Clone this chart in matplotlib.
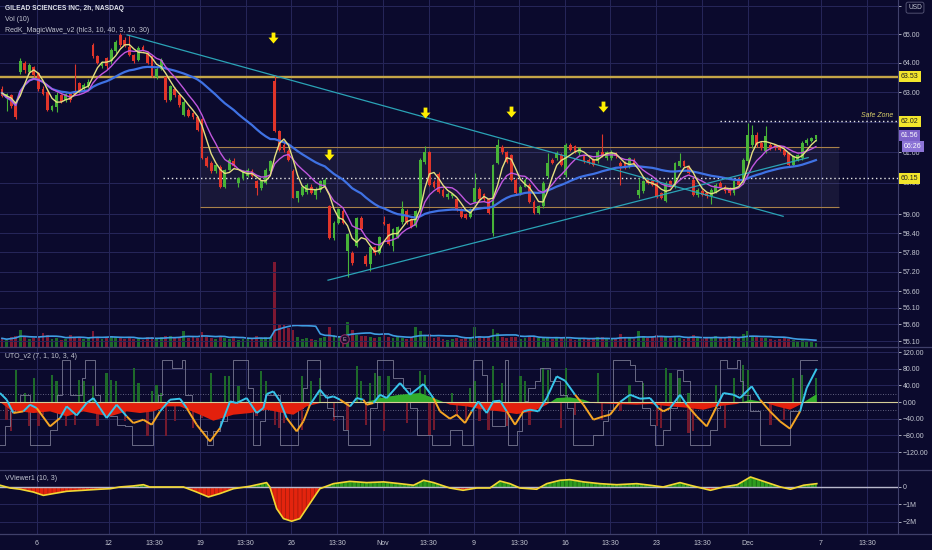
import numpy as np
import matplotlib
matplotlib.use("Agg")
import matplotlib.pyplot as plt
from matplotlib.collections import LineCollection
from matplotlib.path import Path
from matplotlib.patches import Rectangle
from matplotlib.lines import Line2D
from matplotlib.ticker import FixedLocator, NullLocator, FixedFormatter
from matplotlib.transforms import blended_transform_factory

plt.rcParams['font.family'] = ['Liberation Sans', 'DejaVu Sans']
plt.rcParams['hatch.linewidth'] = 0.5

# ---------------- data ----------------
opens = [63.10, 62.80, 62.90, 62.60, 63.70, 64.00, 63.68, 63.85, 63.65, 63.12,
         63.02, 62.40, 62.50, 62.90, 62.72, 62.92, 63.02, 63.30, 63.10, 63.20,
         64.62, 64.22, 63.88, 64.15, 64.05, 64.40, 64.95, 64.80, 64.55, 64.27,
         64.10, 64.55, 64.35, 64.22, 63.50, 63.80, 63.50, 62.75, 63.12, 62.90,
         62.23, 62.40, 62.28, 62.15, 62.08, 60.82, 60.65, 60.38, 60.52, 59.88,
         60.43, 60.70, 59.99, 60.16, 60.22, 60.38, 60.05, 59.83, 59.99, 60.38,
         63.39, 61.68, 61.24, 61.03, 60.38, 59.52, 59.62, 59.70, 59.88, 59.62,
         59.78, 59.94, 59.25, 58.25, 58.73, 59.10, 57.85, 57.79, 58.00, 58.88,
         57.69, 57.43, 57.95, 57.79, 58.75, 58.68, 58.00, 58.28, 58.75, 59.09,
         58.83, 58.62, 59.09, 60.68, 61.00, 60.04, 60.30, 59.78, 59.53, 59.58,
         59.47, 59.15, 58.99, 58.92, 59.40, 59.81, 59.65, 59.47, 58.40, 60.65,
         61.17, 61.00, 60.91, 60.10, 59.68, 59.88, 59.94, 59.40, 59.05, 59.25,
         60.21, 60.75, 60.80, 60.91, 60.26, 61.24, 61.19, 60.97, 60.86, 60.75,
         60.75, 60.70, 61.02, 60.80, 60.80, 60.97, 60.64, 60.64, 60.54, 60.75,
         59.62, 59.73, 60.10, 60.05, 59.99, 59.67, 59.42, 60.05, 59.88, 60.54,
         60.70, 60.54, 60.10, 59.60, 59.75, 59.67, 59.57, 59.72, 59.99, 59.88,
         59.83, 59.67, 60.10, 59.99, 60.70, 61.24, 61.57, 61.29, 61.03, 61.24,
         61.24, 61.19, 61.08, 60.97, 60.59, 60.75, 60.80, 61.29, 61.38, 61.42]
highs = [63.20, 62.98, 62.95, 62.65, 64.15, 64.05, 63.98, 63.90, 63.70, 63.20,
         63.05, 62.58, 63.00, 62.95, 62.97, 62.97, 63.97, 63.35, 63.30, 63.45,
         64.68, 64.28, 64.08, 64.20, 64.50, 64.80, 65.05, 64.90, 64.97, 64.32,
         64.58, 64.62, 64.42, 64.28, 63.85, 64.15, 63.55, 63.25, 63.18, 62.95,
         62.75, 62.45, 62.32, 62.20, 62.12, 60.88, 60.70, 60.62, 60.58, 60.45,
         60.80, 60.80, 60.18, 60.42, 60.48, 60.45, 60.10, 60.10, 60.48, 60.75,
         63.58, 61.72, 61.35, 61.10, 60.45, 59.75, 59.92, 60.00, 59.95, 59.85,
         60.08, 60.15, 59.30, 58.78, 59.18, 59.15, 58.40, 57.85, 58.92, 58.95,
         57.75, 58.00, 58.00, 58.30, 58.95, 58.72, 58.56, 58.62, 59.42, 59.15,
         58.88, 59.12, 60.82, 61.20, 61.05, 60.10, 60.35, 59.82, 59.70, 59.68,
         59.52, 59.18, 59.02, 59.18, 60.32, 59.85, 59.68, 59.50, 60.62, 61.42,
         61.25, 61.05, 60.95, 60.15, 59.92, 60.15, 60.00, 59.45, 59.28, 60.05,
         60.97, 60.80, 61.05, 60.97, 61.30, 61.30, 61.25, 61.17, 60.92, 60.80,
         60.80, 61.08, 61.60, 61.05, 61.08, 61.02, 60.70, 60.70, 60.85, 60.82,
         60.15, 60.10, 60.15, 60.10, 60.05, 59.72, 60.05, 60.10, 60.68, 60.97,
         60.75, 60.58, 60.15, 59.82, 59.80, 59.72, 59.82, 60.00, 60.05, 59.94,
         59.88, 60.10, 60.20, 60.80, 61.95, 61.90, 61.65, 61.35, 61.85, 61.30,
         61.28, 61.24, 61.12, 61.02, 60.90, 60.95, 61.35, 61.45, 61.50, 61.58]
lows = [62.83, 62.35, 62.45, 62.10, 63.62, 63.65, 63.60, 63.50, 63.05, 62.90,
        62.35, 62.35, 62.33, 62.62, 62.68, 62.68, 62.90, 62.98, 63.05, 63.15,
        64.15, 63.95, 63.82, 63.80, 63.95, 64.35, 64.55, 64.55, 64.22, 63.98,
        64.05, 64.40, 63.95, 63.50, 63.45, 63.75, 62.65, 62.70, 62.85, 62.50,
        62.18, 62.15, 62.10, 61.70, 60.78, 60.50, 60.33, 60.33, 59.82, 59.82,
        60.40, 60.50, 59.88, 60.10, 60.18, 60.18, 59.62, 59.78, 59.95, 60.35,
        61.65, 61.05, 61.02, 60.72, 59.50, 59.40, 59.58, 59.65, 59.65, 59.47,
        59.72, 59.90, 58.20, 58.18, 58.70, 58.68, 57.05, 57.40, 57.95, 58.48,
        57.38, 57.22, 57.72, 57.75, 58.65, 58.02, 57.85, 58.25, 58.70, 58.70,
        58.55, 58.58, 59.05, 60.62, 59.90, 59.82, 59.68, 59.53, 59.48, 59.52,
        59.10, 58.88, 58.85, 58.88, 59.35, 59.42, 59.43, 59.00, 58.32, 60.60,
        60.95, 60.65, 60.05, 59.65, 59.62, 59.85, 59.35, 59.00, 59.00, 59.20,
        60.15, 60.60, 60.75, 60.55, 60.20, 61.05, 60.98, 60.90, 60.65, 60.60,
        60.55, 60.65, 60.85, 60.75, 60.75, 60.80, 59.94, 60.45, 60.48, 60.55,
        59.52, 59.68, 59.95, 59.90, 59.52, 59.48, 59.38, 59.85, 59.82, 60.50,
        60.50, 60.28, 59.58, 59.55, 59.58, 59.52, 59.31, 59.68, 59.85, 59.68,
        59.62, 59.62, 59.90, 59.95, 60.65, 61.15, 61.18, 61.08, 60.98, 61.08,
        61.08, 61.03, 60.86, 60.55, 60.55, 60.70, 60.75, 61.25, 61.33, 61.38]
closes = [62.88, 62.92, 62.52, 62.15, 64.05, 63.75, 63.92, 63.58, 63.10, 62.95,
          62.40, 62.52, 62.90, 62.68, 62.92, 62.72, 62.95, 63.02, 63.25, 63.35,
          64.22, 64.00, 64.03, 63.88, 64.45, 64.72, 64.62, 64.60, 64.27, 64.05,
          64.50, 64.45, 64.00, 63.55, 63.80, 64.10, 62.73, 63.20, 62.90, 62.56,
          62.68, 62.20, 62.17, 61.73, 60.82, 60.54, 60.38, 60.59, 59.88, 60.43,
          60.75, 60.54, 60.15, 60.38, 60.43, 60.22, 59.83, 60.05, 60.43, 60.70,
          61.68, 61.08, 61.08, 60.75, 59.52, 59.73, 59.88, 59.94, 59.68, 59.80,
          60.05, 60.10, 58.25, 58.73, 59.15, 58.73, 58.37, 57.48, 58.88, 58.52,
          57.43, 57.95, 57.77, 58.27, 58.68, 58.05, 58.52, 58.58, 59.15, 58.75,
          58.58, 59.09, 60.75, 61.00, 59.94, 59.87, 59.72, 59.57, 59.65, 59.63,
          59.15, 58.92, 58.88, 59.15, 59.84, 59.47, 59.47, 59.05, 60.59, 61.24,
          61.00, 60.68, 60.10, 59.68, 59.88, 60.10, 59.40, 59.05, 59.25, 60.00,
          60.64, 60.64, 60.97, 60.59, 61.24, 61.08, 61.03, 61.13, 60.70, 60.64,
          60.59, 61.02, 60.91, 60.99, 61.02, 60.86, 60.54, 60.48, 60.80, 60.59,
          59.78, 60.05, 59.99, 59.94, 59.57, 59.52, 59.99, 59.88, 60.64, 60.70,
          60.54, 60.32, 59.62, 59.78, 59.62, 59.57, 59.78, 59.94, 59.88, 59.73,
          59.67, 60.05, 59.94, 60.75, 61.57, 61.57, 61.24, 61.13, 61.52, 61.13,
          61.13, 61.08, 60.91, 60.59, 60.86, 60.91, 61.29, 61.40, 61.45, 61.56]
volumes = [1.0, 0.8, 1.1, 1.3, 2.0, 1.2, 0.9, 1.0, 1.1, 1.6,
           1.4, 0.9, 1.0, 0.8, 0.9, 1.4, 1.2, 1.0, 0.9, 1.0,
           1.9, 1.1, 0.9, 1.0, 1.3, 1.1, 1.0, 0.9, 1.0, 0.9,
           1.0, 0.8, 1.2, 1.1, 1.0, 1.2, 1.3, 1.3, 1.0, 1.2,
           1.9, 1.0, 1.1, 1.0, 1.7, 1.2, 1.0, 0.9, 1.3, 1.0,
           0.9, 1.2, 0.8, 0.9, 1.0, 0.9, 1.3, 1.0, 1.1, 1.2,
           9.8, 2.7, 2.5, 2.2, 2.0, 1.1, 0.9, 1.0, 0.9, 0.8,
           1.0, 1.1, 2.3, 1.4, 1.2, 1.2, 2.9, 2.0, 1.4, 1.3,
           1.3, 1.2, 1.0, 1.1, 1.6, 1.2, 1.0, 1.1, 1.0, 0.9,
           1.1, 2.3, 1.8, 1.3, 1.5, 1.0, 1.2, 0.9, 0.8, 0.9,
           1.0, 0.9, 1.1, 1.2, 2.3, 1.3, 1.0, 1.1, 2.1, 1.6,
           1.2, 1.0, 1.1, 1.2, 0.9, 1.0, 1.3, 1.1, 1.0, 1.2,
           1.0, 0.9, 1.2, 1.0, 1.1, 0.9, 0.8, 0.9, 1.0, 0.9,
           1.0, 1.1, 1.2, 1.0, 0.9, 1.0, 1.5, 1.1, 1.0, 0.9,
           1.8, 1.3, 1.0, 1.1, 1.4, 1.1, 1.2, 1.0, 1.3, 1.0,
           0.9, 1.0, 1.4, 1.0, 0.9, 1.1, 1.2, 1.3, 1.0, 1.0,
           1.3, 1.0, 1.1, 1.5, 1.8, 1.3, 1.1, 1.0, 1.0, 0.9,
           0.8, 0.9, 1.0, 0.9, 0.8, 0.7, 0.9, 0.7, 0.6, 0.5]

tick_pos = [7.7, 23.5, 33.5, 43.6, 53.6, 63.6, 73.7, 83.7, 93.8, 103.7,
            113.8, 123.9, 133.8, 143.9, 154.0, 164.0, 180.1, 190.2]
tick_labels = ["6", "12", "13:30", "19", "13:30", "26", "13:30", "Nov", "13:30", "9",
               "13:30", "16", "13:30", "23", "13:30", "Dec", "7", "13:30"]

price_ticks = [55.10, 55.60, 56.10, 56.60, 57.20, 57.80, 58.40, 59.00, 60.00,
               61.00, 62.00, 63.00, 64.00, 65.00, 66.00]
hidden_price_labels = [62.00, 66.00]

resistance = 63.53
safe_zone = 62.02
mid_level = 60.15
last_price = 61.56
box_x = [43.5, 184.1]
box_y = [59.22, 61.17]
down_line_x = [27.5, 171.8]
down_line_y = [64.97, 58.93]
up_line_x = [71.7, 177.3]
up_line_y = [56.94, 60.82]
arrow_x = [59.6, 71.9, 93.0, 111.9, 132.2]
arrow_y = [64.86, 60.91, 62.30, 62.33, 62.50]

# UTO oscillator
uto_x = [-0.44, 1.03, 2.49, 4.69, 6.16, 7.62, 10.56, 12.76, 14.22, 16.42, 18.62, 20.09,
         21.55, 23.02, 25.22, 27.42, 28.89, 31.08, 32.92, 34.75, 36.95, 39.15, 40.62,
         42.82, 45.75, 47.95, 50.15, 51.61, 53.81, 56.01, 57.48, 58.21, 59.68, 61.14,
         62.61, 64.81, 66.28, 67.74, 69.94, 71.41, 72.87, 74.34, 76.54, 78.00, 79.47,
         80.2, 81.67, 83.14, 84.6, 87.54, 89.74, 92.67, 94.87, 96.33, 98.5, 99.99,
         101.83, 103.3, 104.76, 106.6, 108.06, 109.53, 111.0, 112.83, 114.66, 116.13,
         117.96, 119.79, 121.99, 123.82, 126.02, 127.86, 130.06, 132.25, 133.72,
         135.92, 138.12, 140.32, 142.52, 144.35, 145.45, 146.92, 149.12, 150.58,
         152.78, 154.98, 157.18, 158.65, 160.85, 162.31, 164.88, 166.71, 168.91,
         171.11, 173.31, 175.51, 176.97, 179.17]
uto_v = [21.6, 5.6, -26.4, -22.4, -6.4, -14.4, -58.4, -38.4, -10.4, -32, -2.4, 9.6,
         -14.4, -38.4, -6.4, -34.4, -50.4, -42.4, -54.4, -22.4, 5.6, 8, -14.4,
         -54.4, -94.4, -62.4, 1.6, -2.4, 9.6, -26.4, -14.4, 19.2, 25.6, 1.6,
         -38.4, -70.4, -46.4, -6.4, 29.6, 9.6, 13.6, 5.6, -10.4, 9.6, 5.6,
         -6.4, -2.4, 17.6, 9.6, 45.6, 17.6, 43.2, 9.6, -22.4, -40, -30.4,
         -50.4, -22.4, 1.6, -26.4, 1.6, 3.2, -22.4, -54.4, -22.4, -18.4,
         -22.4, 9.6, 61.6, 51.2, 17.6, -6.4, -42.4, -34.4, -30.4,
         0, 17.6, 8, 9.6, -14.4, -22.4, -14.4, 17.6, -6.4,
         -34.4, -58.4, -10.4, 21.6, 17.6, 9.6, 37.6, 5.6, -22.4,
         -46.4, -64, -22.4, 33.6, 80]
sig_x = [-0.44, 1.76, 3.96, 6.89, 10.56, 14.22, 17.89, 21.55, 23.75, 27.42, 30.35,
         33.28, 36.22, 39.15, 43.55, 46.48, 50.88, 54.54, 58.21, 61.88, 64.08, 67.01,
         69.94, 72.87, 76.54, 80.2, 83.14, 87.54, 91.94, 94.87, 97.07, 98.53, 102.2,
         105.86, 109.53, 113.19, 116.86, 119.79, 121.99, 124.92, 127.86, 130.06,
         135.19, 139.59, 142.52, 146.92, 149.85, 154.25, 157.18, 161.58, 164.51,
         167.45, 170.38, 173.31, 175.51, 179.17]
sig_v = [0, -18.4, -22.4, -26.4, -22.4, -34.4, -22.4, -30.4, -34.4, -22.4, -26.4,
         -22.4, -10.4, -10.4, -30.4, -44.8, -30.4, -26.4, -18.4, -26.4, -30.4, -10.4,
         -2.4, 0, -2.4, 0, 9.6, 17.6, 21.6, 9.6, 0, -6.4, -10.4,
         -18.4, -22.4, -28.8, -22.4, -6.4, 9.6, 11.2, 5.6, -2.4,
         -4.8, -6.4, -4.8, -10.4, -12.8, -18.4, -10.4, -4.8, 5.6,
         0, -10.4, -18.4, -6.4, 19.2]
hist_x = [3, 5, 7, 11, 12, 17, 18, 20, 23, 24, 25, 29, 30, 33, 34, 35, 46, 49, 50,
          52, 57, 58, 66, 68, 70, 78, 79, 81, 82, 83, 85, 92, 93,
          1, 2, 6, 8, 9, 14, 16, 21, 27, 32, 36, 38, 42, 44, 56, 60, 61, 62, 66,
          73, 76, 80, 84, 89, 94, 95,
          99, 103, 104, 108, 110, 114, 115, 119, 120, 124, 131, 138, 141, 146, 147,
          149, 151, 157, 161, 163, 164, 174, 176, 179,
          100, 102, 105, 107, 111, 116, 123, 126, 132, 136, 144, 145, 151, 152,
          159, 169, 172]
hist_v = [77.6, 21.6, 57.6, 65.6, 49.6, 53.6, 49.6, 37.6, 69.6, 53.6, 49.6, 81.6,
          45.6, 25.6, 41.6, 21.6, 69.6, 61.6, 61.6, 37.6, 73.6, 49.6, 61.6, 49.6,
          57.6, 85.6, 49.6, 45.6, 69.6, 61.6, 61.6, 73.6, 65.6,
          -42.4, -70.4, -58.4, -58.4, -30.4, -58.4, -54.4, -58.4, -46.4, -82.4,
          -82.4, -46.4, -62.4, -38.4, -34.4, -54.4, -62.4, -50.4, -66.4,
          -46.4, -66.4, -54.4, -70.4, -50.4, -78.4, -66.4,
          21.6, 33.6, 49.6, 85.6, 45.6, 61.6, 49.6, 81.6, 77.6, 81.6, 69.6, 41.6,
          45.6, 81.6, 69.6, 57.6, 21.6, 41.6, 57.6, 89.6, 77.6, 57.6, 65.6, 57.6,
          -30.4, -42.4, -46.4, -66.4, -58.4, -54.4, -62.4, -30.4, -42.4, -22.4,
          -58.4, -62.4, -74.4, -70.4, -62.4, -54.4, -42.4]
step_x = [-0.44, 0.66, 1.76, 2.86, 3.96, 6.16, 10.56, 12.02, 13.12, 14.96, 17.52,
          18.25, 20.45, 21.55, 23.75, 25.22, 27.05, 28.52, 33.28, 34.38, 35.12,
          37.32, 39.52, 40.25, 41.72, 43.55, 45.02, 46.48, 47.95, 49.41, 50.88,
          54.18, 55.28, 56.74, 57.84, 61.14, 65.18, 66.28, 67.01, 69.94, 71.41,
          72.87, 75.07, 76.17, 80.94, 82.4, 86.07, 88.27, 89.74, 91.2, 94.5,
          98.53, 101.1, 103.66, 105.5, 106.6, 107.7, 110.63, 111.36, 113.19,
          114.29, 115.03, 115.76, 117.23, 118.33, 120.52, 122.72, 124.19, 125.51,
          130.06, 132.25, 133.35, 134.45, 138.12, 139.22, 140.69, 142.52, 143.62,
          145.45, 146.92, 148.39, 149.85, 151.32, 155.72, 157.18, 157.92, 159.38,
          161.58, 162.31, 163.05, 164.51, 166.71, 173.31, 175.51, 179.17]
step_v = [-102.4, -58.4, -22.4, -6.4, 17.6, -102.4, -66.4, 17.6, 101.6, 17.6, 57.6,
          101.6, 17.6, -14.4, -34.4, -54.4, -58.4, -102.4, -14.4, 17.6, 101.6,
          81.6, 101.6, 17.6, -14.4, -70.4, -102.4, -70.4, -46.4, -14.4, 101.6,
          33.6, -102.4, -46.4, 17.6, -102.4, -14.4, 33.6, 101.6, 17.6, -14.4,
          -34.4, -66.4, -102.4, -14.4, 101.6, 57.6, 33.6, -14.4, -78.4, -102.4,
          -66.4, -102.4, 101.6, 65.6, -6.4, -58.4, 101.6, -102.4, -70.4,
          -14.4, 1.6, 33.6, 49.6, 81.6, 49.6, 17.6, -14.4, -102.4,
          -78.4, -46.4, -18.4, 101.6, 89.6, 49.6, -14.4, -54.4, -102.4,
          -66.4, -14.4, 77.6, 49.6, -102.4, -66.4, -14.4, 101.6, 81.6,
          101.6, 49.6, 17.6, -22.4, -102.4, -22.4, 101.6, 101.6]

# VViewer (millions)
vv_x = [-0.44, 1.8, 4.0, 6.9, 9.1, 11.3, 14.2, 17.9, 21.5, 23.8, 25.9, 28.9, 31.1,
        32.5, 36.2, 39.9, 42.8, 45.4, 47.9, 50.9, 54.5, 58.2, 58.9, 60.4, 61.9,
        63.7, 65.5, 67.7, 69.9, 72.9, 76.5, 80.2, 83.9, 87.5, 90.5, 92.7, 94.9,
        97.8, 98.5, 101.4, 104.4, 107.3, 109.5, 111.7, 113.9, 117.6, 119.8, 122.7,
        124.9, 127.9, 131.5, 135.2, 139.6, 142.5, 145.4, 149.1, 151.3, 155.8,
        158.7, 161.7, 164.6, 167.5, 171.2, 173.4, 176.3, 179.2]
vv_v = [0.10, -0.06, -0.13, -0.29, -0.48, -0.38, -0.25, -0.19, -0.13, -0.10, 0.0,
        0.06, 0.13, 0.0, 0.0, 0.0, -0.29, -0.57, -0.38, -0.10, 0.04, 0.25, 0.0,
        -1.24, -1.81, -1.96, -1.81, -0.95, -0.10, 0.19, 0.32, 0.25, 0.29, 0.19,
        0.10, 0.38, 0.25, 0.0, -0.06, -0.19, -0.06, -0.06, 0.34, 0.19, -0.06,
        -0.13, 0.19, 0.38, 0.42, 0.29, 0.19, 0.13, 0.19, 0.10, 0.0, 0.25, 0.10,
        -0.19, 0.0, 0.13, 0.57, 0.32, 0.0, -0.13, 0.10, 0.19]

# ---------------- style ----------------
BG = "#0b0a2d"
GRID = "#26265a"
TXT = "#c3c6d2"
SEP = "#40406a"
GREEN = "#47b338"
RED = "#e0352a"

W, H = 932, 550
XL = (-0.44, 197.05)


def rect(top, bottom, right=898):
    return [0, 1 - bottom / H, right / W, (bottom - top) / H]


def wma(a, n):
    a = np.asarray(a, float)
    out = np.empty(len(a))
    for k in range(len(a)):
        seg = a[max(0, k - n + 1):k + 1]
        w = np.arange(1, len(seg) + 1)
        out[k] = (seg * w).sum() / w.sum()
    return out


def sma(a, n):
    a = np.asarray(a, float)
    return np.array([a[max(0, k - n + 1):k + 1].mean() for k in range(len(a))])


o = np.array(opens); h = np.array(highs); l = np.array(lows); c = np.array(closes)
N = len(c)
x = np.arange(N)
up = c >= o
cols = np.where(up, GREEN, RED)
hlc3 = (h + l + c) / 3.0

fig = plt.figure(figsize=(9.32, 5.5), dpi=100, facecolor=BG)

# volume axes (behind price)
axvol = fig.add_axes(rect(0, 347), facecolor=BG)
axvol.set_xlim(*XL)
axvol.set_ylim(0, 40)
axvol.axis('off')
vcol = np.where(up, "#1d6a2a", "#7d1832")
axvol.bar(x, volumes, width=0.62, color=vcol, zorder=1)
axvol.plot(x, sma(volumes, 10), color="#3f9de2", lw=1.2, zorder=2)

ax = fig.add_axes(rect(0, 347), facecolor='none')
axu = fig.add_axes(rect(347, 470), facecolor=BG, sharex=ax)
axv = fig.add_axes(rect(470, 534), facecolor=BG, sharex=ax)

for a in (ax, axu, axv):
    for s in ('top', 'left', 'bottom'):
        a.spines[s].set_visible(False)
    a.spines['right'].set_color(SEP)
    a.spines['right'].set_linewidth(0.8)
    a.yaxis.tick_right()
    a.tick_params(axis='y', colors=TXT, labelsize=5, length=2, width=0.6, pad=1.5)
    a.tick_params(axis='x', length=0)
    a.grid(True, color=GRID, lw=0.7)
    a.set_axisbelow(True)

ax.set_xlim(*XL)
ax.set_xticks(tick_pos)
ax.tick_params(labelbottom=False)
axu.tick_params(labelbottom=False)
axv.set_xticklabels(tick_labels)
axv.tick_params(axis='x', colors=TXT, labelsize=5, pad=4.5)

# ---- main price panel ----
ax.set_yscale('log')
ax.set_ylim(54.93, 66.20)
ax.yaxis.set_major_locator(FixedLocator(price_ticks))
ax.yaxis.set_major_formatter(FixedFormatter(
    ["" if v in hidden_price_labels else f"{v:.2f}" for v in price_ticks]))
ax.yaxis.set_minor_locator(NullLocator())

ax.vlines(x, l, h, colors=cols, lw=0.8, zorder=4)
ax.bar(x, np.abs(c - o), bottom=np.minimum(o, c), width=0.62, color=cols, zorder=5)

ax.plot(x, wma(hlc3, 40), color="#3f72e4", lw=1.6, zorder=6)
ax.plot(x, wma(hlc3, 10), color="#c157df", lw=1.0, zorder=6)
ax.plot(x, wma(wma(hlc3, 3), 3), color="#e4df80", lw=1.0, zorder=7)

ax.axhline(resistance, color="#c4a547", lw=1.7, zorder=3)
ax.add_patch(Rectangle((box_x[0], box_y[0]), box_x[1] - box_x[0], box_y[1] - box_y[0],
                       facecolor="#ffffff", alpha=0.055, edgecolor='none', zorder=2))
ax.hlines(box_y, box_x[0], box_x[1], colors="#a9824a", lw=0.8, zorder=3)
ax.hlines(mid_level, 35.4, XL[1], colors="#e8e8e8", lw=1.0, linestyles=(0, (1, 2)), zorder=3)
ax.hlines(safe_zone, 157.9, XL[1], colors="#e8e8e8", lw=1.0, linestyles=(0, (1, 2)), zorder=3)
ax.plot(down_line_x, down_line_y, color="#2aa3b6", lw=0.9, zorder=6)
ax.plot(up_line_x, up_line_y, color="#2aa3b6", lw=0.9, zorder=6)

arrow = Path([(-0.32, 1.0), (0.32, 1.0), (0.32, 0.15), (0.85, 0.15), (0.0, -0.85),
              (-0.85, 0.15), (-0.32, 0.15), (-0.32, 1.0)],
             [Path.MOVETO] + [Path.LINETO] * 6 + [Path.CLOSEPOLY])
ax.plot(arrow_x, arrow_y, linestyle='none', marker=arrow, markersize=8.5,
        color="#ffee00", markeredgewidth=0, zorder=9)

ax.text(196.0, 62.22, "Safe Zone", color="#d9cf6a", fontsize=5, style='italic',
        ha='right', va='center', zorder=9)
ax.text(75.4, 55.16, "E", color="#d0a0c0", fontsize=4, ha='center', va='center', zorder=9,
        bbox=dict(boxstyle='circle,pad=0.35', fc="#1a0f30", ec="#8a2a60", lw=0.8))

btr = blended_transform_factory(ax.transAxes, ax.transData)


def tag(y, text, fc, tc, xpx=901):
    ax.text(xpx / 898, y, text, transform=btr, fontsize=5, color=tc, ha='left',
            va='center', clip_on=False, zorder=20,
            bbox=dict(boxstyle='square,pad=0.28', fc=fc, ec='none'))


tag(resistance, f"{resistance:.2f}", "#f2e52c", "#222222")
tag(safe_zone, f"{safe_zone:.2f}", "#f2e52c", "#222222")
tag(mid_level, f"{mid_level:.2f}", "#f2e52c", "#222222")
tag(last_price, f"{last_price:.2f}", "#7d62c9", "#ffffff")
tag(61.18, "06:26", "#8c74d6", "#ffffff", xpx=904)
ax.text(915 / 898, 0.988, "USD", transform=ax.transAxes, fontsize=4.8, color=TXT,
        ha='center', va='top', clip_on=False, zorder=20,
        bbox=dict(boxstyle='round,pad=0.3', fc=BG, ec="#5a5a7a", lw=0.6))

# ---- UTO panel ----
axu.set_ylim(-163, 132)
uto_ticks = [120, 80, 40, 0, -40, -80, -120]
axu.yaxis.set_major_locator(FixedLocator(uto_ticks))
axu.yaxis.set_major_formatter(FixedFormatter(
    [f"{v:.2f}".replace("-", "\u2212") for v in uto_ticks]))
hx = np.array(hist_x); hv = np.array(hist_v)
axu.bar(hx, hv, width=0.5, color=np.where(hv > 0, "#1e6a2a", "#741a2e"), zorder=2)
axu.plot(step_x, step_v, drawstyle='steps-post', color="#7a7a94", lw=0.7, alpha=0.85, zorder=3)
sx = np.array(sig_x); sv = np.array(sig_v)
axu.fill_between(sx, sv, 0, where=sv <= 0, interpolate=True, color="#e3200d", lw=0, zorder=4)
axu.fill_between(sx, sv, 0, where=sv >= 0, interpolate=True, color="#33ad2c", lw=0, zorder=4)
axu.axhline(0, color="#d6cf98", lw=0.8, zorder=5)
for lv in (20, -20):
    axu.axhline(lv, color="#7d7d9c", lw=0.6, linestyle=(0, (1, 2)), zorder=1)
ux = np.array(uto_x); uv = np.array(uto_v)
segs = [[(ux[k], uv[k]), (ux[k + 1], uv[k + 1])] for k in range(len(ux) - 1)]
mid_x = (ux[:-1] + ux[1:]) / 2
mid_v = (uv[:-1] + uv[1:]) / 2
segcol = np.where(mid_v > np.interp(mid_x, sx, sv), "#38c4ea", "#f5a524")
axu.add_collection(LineCollection(segs, colors=list(segcol), lw=1.4, zorder=6))

# ---- VViewer panel ----
axv.set_ylim(-2.69, 0.97)
axv.yaxis.set_major_locator(FixedLocator([0, -1, -2]))
axv.yaxis.set_major_formatter(FixedFormatter(["0", "\u22121M", "\u22122M"]))
vx = np.array(vv_x); vvv = np.array(vv_v)
axv.fill_between(vx, vvv, 0, where=vvv <= 0, interpolate=True, facecolor="#e3240e",
                 edgecolor="#9c1a0c", hatch='||||', lw=0, zorder=3)
axv.fill_between(vx, vvv, 0, where=vvv >= 0, interpolate=True, facecolor="#2f9c1f",
                 edgecolor="#145a12", hatch='||||', lw=0, zorder=3)
axv.axhline(0, color="#b9b9cc", lw=1.0, zorder=4)
axv.plot(vx, vvv, color="#f2d733", lw=1.2, zorder=5)

# ---- separators & titles ----
for yy in (347, 470, 534):
    fig.add_artist(Line2D([0, 1], [1 - yy / H] * 2, color=SEP, lw=0.9))

fig.text(5 / W, 1 - 8 / H, "GILEAD SCIENCES INC, 2h, NASDAQ", color="#e0e2ea", fontsize=4.8,
         ha='left', va='center', fontweight='semibold')
fig.text(5 / W, 1 - 19.5 / H, "Vol (10)", color=TXT, fontsize=5.0, ha='left', va='center')
fig.text(5 / W, 1 - 31 / H, "RedK_MagicWave_v2 (hlc3, 10, 40, 3, 10, 30)", color=TXT,
         fontsize=5.0, ha='left', va='center')
fig.text(5 / W, 1 - 356 / H, "UTO_v2 (7, 1, 10, 3, 4)", color=TXT, fontsize=5.0,
         ha='left', va='center')
fig.text(5 / W, 1 - 479 / H, "VViewer1 (10, 3)", color=TXT, fontsize=5.0,
         ha='left', va='center')

fig.savefig("out.png", dpi=100, facecolor=BG)
